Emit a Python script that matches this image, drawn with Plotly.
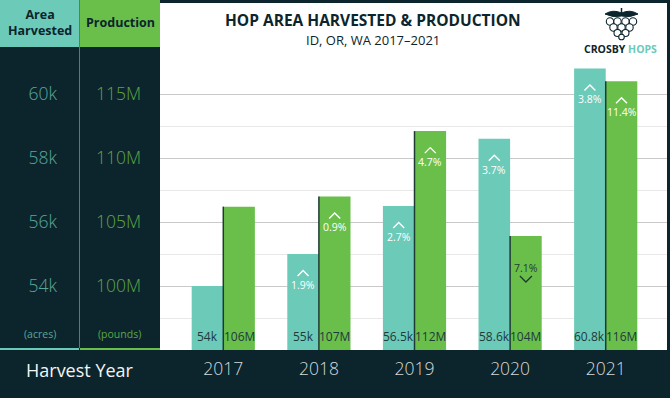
import plotly.graph_objects as go

# ---------------- data ----------------
years = ["2017", "2018", "2019", "2020", "2021"]
area_k = [54.0, 55.0, 56.5, 58.6, 60.8]            # acres (thousands)
production_m = [106.2, 107.0, 112.1, 103.9, 116.0]  # pounds (millions)
area_labels = ["54k", "55k", "56.5k", "58.6k", "60.8k"]
production_labels = ["106M", "107M", "112M", "104M", "116M"]
area_change = [None, 1.9, 2.7, 3.7, 3.8]
production_change = [None, 0.9, 4.7, -7.1, 11.4]
area_tickvals = [54, 56, 58, 60]
area_ticktext = ["54k", "56k", "58k", "60k"]
area_minor = [53, 55, 57, 59]
prod_tickvals = [100, 105, 110, 115]
prod_ticktext = ["100M", "105M", "110M", "115M"]

# ---------------- style ----------------
W, H = 670, 398
DARK = "#0c252d"
TEAL = "#6ccab8"
GREEN = "#6abf4b"
TEAL_TXT = "#5aa59a"
GREEN_TXT = "#5fa645"
FONT = "Open Sans"
BW = 0.3305
AREA_MIN, AREA_SPAN = 52, 347 / 32
PROD_MIN, PROD_SPAN = 95, 2.5 * 347 / 32


def px(x):
    return x / W


def py(y):
    return 1 - y / H


fig = go.Figure()
fig.add_trace(go.Bar(x=years, y=area_k, width=BW, offset=-BW, yaxis="y",
                     marker=dict(color=TEAL, line=dict(width=0)), hoverinfo="skip"))
fig.add_trace(go.Bar(x=years, y=production_m, width=BW, offset=0, yaxis="y2",
                     marker=dict(color=GREEN, line=dict(width=0)), hoverinfo="skip"))

shapes = []
annotations = []

# header boxes, divider and underlines of the left panel
shapes += [
    dict(type="rect", xref="paper", yref="paper", x0=0, x1=px(79), y0=py(47), y1=1,
         fillcolor=TEAL, line=dict(width=0), layer="below"),
    dict(type="rect", xref="paper", yref="paper", x0=px(80), x1=px(160), y0=py(47), y1=1,
         fillcolor=GREEN, line=dict(width=0), layer="below"),
    dict(type="line", xref="paper", yref="paper", x0=px(79.5), x1=px(79.5), y0=py(348), y1=1,
         line=dict(color="#5f767a", width=1)),
    dict(type="rect", xref="paper", yref="paper", x0=0, x1=px(79), y0=py(350), y1=py(348),
         fillcolor=TEAL, line=dict(width=0)),
    dict(type="rect", xref="paper", yref="paper", x0=px(80), x1=px(160), y0=py(350), y1=py(348),
         fillcolor=GREEN, line=dict(width=0)),
]

# dark left edge of production bars
for i, v in enumerate(production_m):
    shapes.append(dict(type="line", xref="x", yref="y2", xsizemode="pixel", xanchor=i,
                       x0=0, x1=0, y0=PROD_MIN, y1=v, line=dict(color="#1e3b33", width=1.5),
                       layer="above"))

# bottom value labels
for i, lab in enumerate(area_labels):
    annotations.append(dict(x=i, y=AREA_MIN, xref="x", yref="y", text=lab, showarrow=False,
                            xanchor="center", yanchor="middle", borderpad=0,
                            xshift=-15.8, yshift=14, font=dict(family=FONT, size=12, color="#1d3a3c")))
for i, lab in enumerate(production_labels):
    annotations.append(dict(x=i, y=PROD_MIN, xref="x", yref="y2", text=lab, showarrow=False,
                            xanchor="center", yanchor="middle", borderpad=0,
                            xshift=15.8, yshift=14, font=dict(family=FONT, size=12, color="#1d3a3c")))


def add_change(i, val, chg, yref, xs):
    if chg is None:
        return
    if chg >= 0:
        col = "white"
        ys = -31
        path = f"M {xs-5.5},-22 L {xs},-16.5 L {xs+5.5},-22"
    else:
        col = "#1e3b33"
        ys = -32
        path = f"M {xs-6},-40 L {xs},-46 L {xs+6},-40"
    annotations.append(dict(x=i, y=val, xref="x", yref=yref, text=f"{abs(chg):.1f}%",
                            showarrow=False, xanchor="center", yanchor="middle", borderpad=0,
                            xshift=xs, yshift=ys,
                            font=dict(family=FONT, size=10.5, color=col)))
    shapes.append(dict(type="path", xref="x", yref=yref, xsizemode="pixel", ysizemode="pixel",
                       xanchor=i, yanchor=val, path=path, line=dict(color=col, width=1.4),
                       layer="above"))


for i, (v, c) in enumerate(zip(area_k, area_change)):
    add_change(i, v, c, "y", -15.8)
for i, (v, c) in enumerate(zip(production_m, production_change)):
    add_change(i, v, c, "y2", 15.8)


def ptext(x, y, text, size, color, bold=False):
    return dict(x=px(x), y=py(y), xref="paper", yref="paper", xanchor="center", yanchor="middle",
                text=f"<b>{text}</b>" if bold else text, showarrow=False, borderpad=0,
                font=dict(family=FONT, size=size, color=color))


# headers / units / bottom label
annotations += [
    ptext(40, 23, "Area<br>Harvested", 12.5, DARK, True),
    ptext(120, 23, "Production", 12.5, DARK, True),
    ptext(40, 334, "(acres)", 10.5, TEAL_TXT),
    ptext(119, 334, "(pounds)", 10.5, GREEN_TXT),
    ptext(80, 370, "Harvest Year", 18, "#f2f4f4"),
    ptext(373.5, 20.5, "HOP AREA HARVESTED &amp; PRODUCTION", 15.5, DARK, True),
    ptext(373.5, 40.5, "ID, OR, WA 2017–2021", 13, DARK),
    ptext(620, 49, f"CROSBY <span style='color:{TEAL}'>HOPS</span>", 10.5, DARK, True),
]

# logo: simplified hop cone
shapes.append(dict(type="path", xref="paper", yref="paper",
                   path=(f"M {px(605)},{py(14)} Q {px(613)},{py(9)} {px(621.5)},{py(13)} "
                         f"Q {px(630)},{py(9)} {px(638)},{py(14)} "
                         f"Q {px(630)},{py(18)} {px(621.5)},{py(16)} "
                         f"Q {px(613)},{py(18)} {px(605)},{py(14)} Z"),
                   fillcolor=DARK, line=dict(color=DARK, width=1)))
shapes.append(dict(type="line", xref="paper", yref="paper", x0=px(621.5), x1=px(621.5),
                   y0=py(13), y1=py(8), line=dict(color=DARK, width=1.5)))
for cy, xs, r in [(21.5, [610, 617.5, 625.5, 633], 3.7), (27.5, [613.5, 621.5, 629.5], 3.7),
                  (33, [617.5, 625.5], 3.5), (37, [621.5], 2.8)]:
    for cx in xs:
        shapes.append(dict(type="circle", xref="paper", yref="paper",
                           x0=px(cx - r), x1=px(cx + r), y0=py(cy + r), y1=py(cy - r),
                           fillcolor="white", line=dict(color=DARK, width=1.1)))

fig.update_layout(
    template="none",
    width=W, height=H, margin=dict(l=0, r=0, t=0, b=0, pad=0, autoexpand=False),
    paper_bgcolor=DARK, plot_bgcolor="white", showlegend=False, barmode="overlay",
    font=dict(family=FONT),
    xaxis=dict(domain=[px(160), px(667)], type="category", range=[-0.662, 4.641],
               automargin=False,
               showgrid=False, zeroline=False, showline=False, ticks="",
               tickfont=dict(family=FONT, size=17.5, color="#d3dadb", weight=300),
               ticklabelstandoff=6),
    yaxis=dict(domain=[48 / H, 395 / H], range=[AREA_MIN, AREA_MIN + AREA_SPAN],
               automargin=False,
               anchor="free", position=px(57), side="left",
               tickvals=area_tickvals, ticktext=area_ticktext,
               showgrid=True, gridcolor="#c9c9c9", gridwidth=1,
               minor=dict(tickvals=area_minor, showgrid=True, gridcolor="#e8e8e8", ticks=""),
               zeroline=False, showline=False, ticks="",
               tickfont=dict(family=FONT, size=17.5, color=TEAL_TXT, weight=300)),
    yaxis2=dict(overlaying="y", range=[PROD_MIN, PROD_MIN + PROD_SPAN],
                automargin=False,
                anchor="free", position=px(141), side="left",
                tickvals=prod_tickvals, ticktext=prod_ticktext,
                showgrid=False, zeroline=False, showline=False, ticks="",
                tickfont=dict(family=FONT, size=17.5, color=GREEN_TXT, weight=300)),
    shapes=shapes, annotations=annotations,
)

fig.write_html("out.html", config={"displayModeBar": False},
               post_script="document.body.style.margin='0px';document.body.style.padding='0px';")
